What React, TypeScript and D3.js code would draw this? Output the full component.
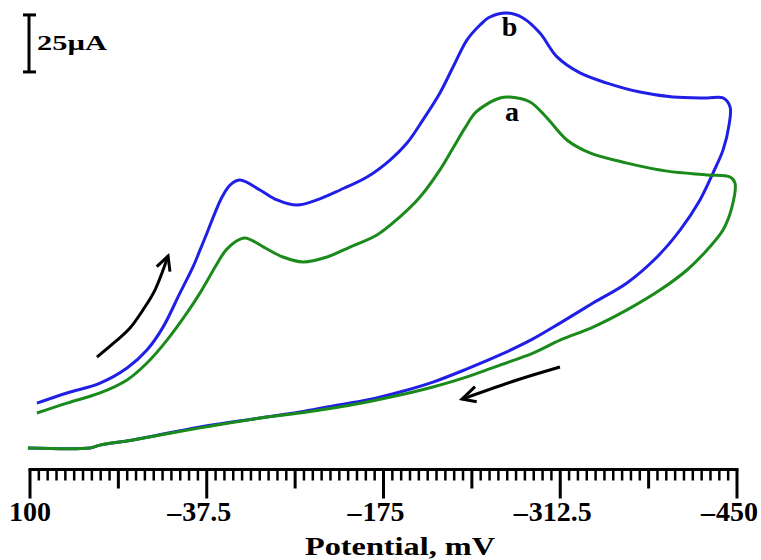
import React from "react";
import * as d3 from "d3";

// Potential (mV) vs current (µA) readings, curve b (blue) and curve a (green)
const curveBForward: [number, number][] = [
  [94.6, 18.6], [71.2, 22.9], [45.5, 27.1], [24.5, 33.5], [9.0, 41.1], [-3.5, 50.8],
  [-16.7, 65.3], [-26.8, 76.3], [-32.3, 83.5], [-37.7, 90.7], [-43.9, 99.2], [-49.4, 105.9],
  [-55.6, 111.0], [-63.4, 113.1], [-78.9, 108.9], [-92.1, 104.7], [-107.7, 102.5], [-123.3, 104.7],
  [-141.2, 108.9], [-162.2, 114.4], [-180.1, 121.6], [-193.3, 128.8], [-205.7, 138.6],
  [-218.9, 150.0], [-229.1, 161.0], [-240.0, 172.5], [-250.1, 178.8], [-257.8, 182.2],
  [-271.1, 183.9], [-283.5, 181.8], [-296.7, 175.4], [-310.0, 165.3], [-327.9, 158.5],
  [-348.9, 154.2], [-374.5, 150.4], [-400.2, 148.3], [-426.7, 147.9], [-439.1, 147.9],
  [-444.6, 144.1],
];
const curveBReverse: [number, number][] = [
  [-443.8, 136.4], [-439.1, 125.8], [-431.3, 116.1], [-421.2, 104.7], [-405.7, 91.9],
  [-387.8, 80.5], [-364.4, 69.5], [-338.0, 61.0], [-312.3, 52.5], [-291.3, 45.8],
  [-265.6, 39.0], [-240.0, 33.1], [-213.5, 27.5], [-187.8, 23.3], [-162.2, 19.9],
  [-135.7, 17.4], [-110.0, 14.8], [-84.4, 12.7], [-32.3, 8.5], [19.9, 3.0], [45.5, 0.8],
  [53.3, -0.4], [101.6, -0.4],
];
const curveAForward: [number, number][] = [
  [94.6, 14.4], [71.2, 18.6], [45.5, 22.9], [24.5, 28.4], [9.0, 35.6], [-6.6, 45.3],
  [-22.1, 56.8], [-32.3, 65.3], [-40.0, 72.5], [-46.3, 78.4], [-52.5, 83.5], [-59.5, 86.9],
  [-67.3, 88.6], [-84.4, 83.9], [-96.8, 80.5], [-112.4, 78.4], [-131.0, 80.5], [-148.9, 84.7],
  [-169.9, 89.8], [-187.8, 97.5], [-203.4, 105.9], [-218.9, 117.4], [-229.1, 126.7],
  [-238.4, 135.2], [-246.2, 141.5], [-255.5, 145.3], [-265.6, 147.9], [-273.4, 148.3],
  [-289.0, 146.2], [-302.2, 139.4], [-317.7, 130.1], [-335.6, 124.6], [-364.4, 120.3],
  [-395.6, 116.9], [-426.7, 115.3], [-444.6, 114.4], [-448.4, 111.9],
];
const curveAReverse: [number, number][] = [
  [-446.1, 101.7], [-439.1, 91.9], [-426.7, 83.5], [-411.1, 75.0], [-390.1, 66.5],
  [-364.4, 58.1], [-338.0, 50.8], [-312.3, 45.3], [-291.3, 39.8], [-265.6, 34.7],
  [-240.0, 29.7], [-213.5, 25.4], [-187.8, 22.0], [-162.2, 19.1], [-135.7, 16.5],
  [-110.0, 14.4], [-84.4, 12.7], [-32.3, 8.1], [19.9, 3.0], [45.5, 0.8], [53.3, -0.4],
  [101.6, -0.4],
];

const majorTicks = [100, -37.5, -175, -312.5, -450];
const curveLabels = [
  { text: "b", v: -273, i: 174 },
  { text: "a", v: -275, i: 138 },
];
const scaleBarCurrent = [158.5, 183.5]; // 25 µA
const arrowUp: [number, number][] = [[47.9, 38.1], [33.9, 44.5], [22.2, 50.4], [12.1, 58.1], [2.8, 66.5], [-7.4, 80.9]];
const arrowUpHead: [number, number][] = [[1.4, 76.4], [-7.4, 80.9], [-8.9, 74.3]];
const arrowDown: [number, number][] = [[-312.3, 33.9], [-278.9, 28.4], [-236.1, 20.3]];
const arrowDownHead: [number, number][] = [[-246.2, 25.6], [-236.1, 20.3], [-247.5, 19.2]];

const W = 761, H = 560;
const FONT = "'Liberation Serif', 'Times New Roman', serif";

export default function App() {
  const x = d3.scaleLinear().domain([100, -450]).range([30, 737]);
  const y = d3.scaleLinear().domain([0, 100]).range([447, 211]);
  const axisY = 469.5;

  const smooth = d3
    .line<[number, number]>()
    .x((d) => x(d[0]))
    .y((d) => y(d[1]))
    .curve(d3.curveCatmullRom.alpha(0.5));
  const straight = d3
    .line<[number, number]>()
    .x((d) => x(d[0]))
    .y((d) => y(d[1]));

  const minorStep = 550 / 80;
  const allTicks = d3.range(0, 81).map((k) => ({ v: 100 - k * minorStep, k }));

  const labelFont = 28;
  const digitsWidth = (s: string) =>
    s.split("").reduce((acc, c) => acc + (c === "." ? 0.25 : 0.5), 0) * labelFont;

  return (
    <svg
      width={W}
      height={H}
      style={{ position: "absolute", left: 0, top: 0, background: "#fff" }}
    >
      <rect width={W} height={H} fill="#fff" />
      {/* curves */}
      <path
        d={smooth([...curveBForward, ...curveBReverse]) || ""}
        fill="none"
        stroke="#1f1fe6"
        strokeWidth={3}
        strokeLinejoin="round"
      />
      <path
        d={smooth([...curveAForward, ...curveAReverse]) || ""}
        fill="none"
        stroke="#1a8a1a"
        strokeWidth={3}
        strokeLinejoin="round"
      />
      {/* curve labels */}
      {curveLabels.map((l) => (
        <text
          key={l.text}
          x={x(l.v)}
          y={y(l.i)}
          textAnchor="middle"
          fontFamily={FONT}
          fontWeight="bold"
          fontSize={28}
          fill="#000"
        >
          {l.text}
        </text>
      ))}
      {/* arrows */}
      <path d={smooth(arrowUp) || ""} fill="none" stroke="#000" strokeWidth={3} />
      <path d={straight(arrowUpHead) || ""} fill="none" stroke="#000" strokeWidth={3} strokeLinejoin="miter" />
      <path d={smooth(arrowDown) || ""} fill="none" stroke="#000" strokeWidth={3} />
      <path d={straight(arrowDownHead) || ""} fill="none" stroke="#000" strokeWidth={3} strokeLinejoin="miter" />
      {/* scale bar */}
      <g stroke="#000" strokeWidth={3}>
        <line x1={29} x2={29} y1={y(scaleBarCurrent[0])} y2={y(scaleBarCurrent[1])} />
        <line x1={23} x2={36} y1={y(scaleBarCurrent[0]) - 1} y2={y(scaleBarCurrent[0]) - 1} />
        <line x1={23} x2={36} y1={y(scaleBarCurrent[1]) + 1} y2={y(scaleBarCurrent[1]) + 1} />
      </g>
      <text
        x={37}
        y={50}
        fontFamily={FONT}
        fontWeight="bold"
        fontSize={22}
        textLength={70}
        lengthAdjust="spacingAndGlyphs"
      >
        25µA
      </text>
      {/* axis */}
      <line x1={x(100) - 1.5} x2={x(-450) + 1.5} y1={axisY} y2={axisY} stroke="#000" strokeWidth={3} />
      {allTicks.map(({ v, k }) => {
        const len = k % 20 === 0 ? 29 : k % 10 === 0 ? 19 : 11;
        return (
          <line
            key={k}
            x1={x(v)}
            x2={x(v)}
            y1={axisY}
            y2={axisY + len}
            stroke="#000"
            strokeWidth={k % 10 === 0 ? 3 : 2.5}
          />
        );
      })}
      {majorTicks.map((v) => {
        const digits = String(Math.abs(v));
        const w = digitsWidth(digits);
        return (
          <g key={v} fontFamily={FONT} fontWeight="bold" fontSize={labelFont} fill="#000">
            <text x={x(v)} y={521} textAnchor="middle">
              {digits}
            </text>
            {v < 0 && (
              <text x={x(v) - w / 2 - 1} y={521} textAnchor="end">
                –
              </text>
            )}
          </g>
        );
      })}
      <text
        x={305}
        y={555}
        fontFamily={FONT}
        fontWeight="bold"
        fontSize={26}
        textLength={190}
        lengthAdjust="spacingAndGlyphs"
      >
        Potential, mV
      </text>
    </svg>
  );
}
